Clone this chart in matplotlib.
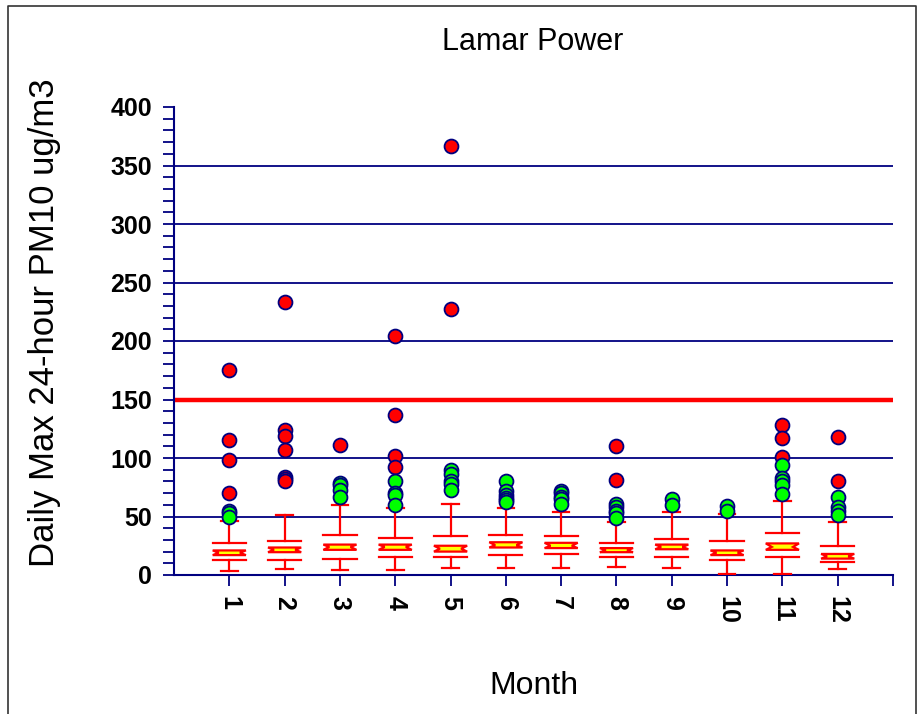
import matplotlib
matplotlib.use('Agg')
import matplotlib.pyplot as plt
import numpy as np
from matplotlib.lines import Line2D
from matplotlib.patches import Polygon
from matplotlib.ticker import MultipleLocator

plt.rcParams['font.family'] = ['Liberation Sans', 'DejaVu Sans']

# box statistics per month
months = [1, 2, 3, 4, 5, 6, 7, 8, 9, 10, 11, 12]
whisker_lo = [3, 5, 4, 4, 6, 6, 6, 7, 6, 1, 1, 5]
q1 = [13, 13, 14, 15, 15, 17, 18, 15, 15, 13, 15, 11]
notch_lo = [17, 19.5, 21.5, 21.5, 20, 23.5, 23, 19.5, 22, 17, 21.5, 14]
median = [19, 21.5, 24, 24, 22.5, 25.5, 25, 21, 24, 19, 24, 16]
notch_hi = [21, 23.5, 26, 26, 25, 28, 27.5, 23, 26, 21, 27, 18]
q3 = [27, 29, 34, 32, 33, 34, 33, 27, 31, 29, 35.5, 25]
whisker_hi = [46, 51, 60, 57, 61, 57, 54, 45, 54, 52, 63, 45]

# extreme points (red) and outliers (green)
red_pts = [[175, 115, 98, 70],
           [233, 124, 119, 107, 84, 82, 80],
           [111],
           [204, 137, 102, 92],
           [367, 227],
           [],
           [],
           [110, 81],
           [],
           [],
           [128, 117, 101],
           [118, 80]]
green_pts = [[55, 53, 50],
             [],
             [79, 77, 73, 67],
             [80, 70, 68, 60],
             [90, 86, 80, 78, 73],
             [80, 72, 68, 66, 64, 62],
             [72, 70, 67, 65, 61],
             [61, 58, 55, 53, 49],
             [65, 60],
             [59, 55],
             [94, 83, 80, 77, 69],
             [67, 58, 55, 51]]

grid_levels = [50, 100, 200, 250, 300, 350]
standard = 150

navy = '#000080'
red = '#ff0000'

W, H = 920, 714
fig = plt.figure(figsize=(W / 100, H / 100), dpi=100)
ax = fig.add_axes([174 / W, 1 - 575 / H, (893 - 174) / W, (575 - 107) / H])

# horizontal grid + 24-hour standard
for g in grid_levels:
    ax.axhline(g, color=navy, lw=1.3, zorder=1)
ax.axhline(standard, color=red, lw=3.2, zorder=2)

box_w = 0.6
cap_w = 0.3
for i, m in enumerate(months):
    lw = 1.6
    # whiskers
    ax.plot([m, m], [whisker_lo[i], q1[i]], color=red, lw=lw, zorder=3)
    ax.plot([m, m], [q3[i], whisker_hi[i]], color=red, lw=lw, zorder=3)
    ax.plot([m - cap_w / 2, m + cap_w / 2], [whisker_lo[i]] * 2, color=red, lw=lw, zorder=3)
    ax.plot([m - cap_w / 2, m + cap_w / 2], [whisker_hi[i]] * 2, color=red, lw=lw, zorder=3)
    # box edges
    ax.plot([m - box_w / 2, m + box_w / 2], [q1[i]] * 2, color=red, lw=lw, zorder=3)
    ax.plot([m - box_w / 2, m + box_w / 2], [q3[i]] * 2, color=red, lw=lw, zorder=3)
    # notch
    nx = box_w * 0.32
    notch = Polygon([(m - box_w / 2, notch_hi[i]), (m - nx, median[i]),
                     (m - box_w / 2, notch_lo[i]), (m + box_w / 2, notch_lo[i]),
                     (m + nx, median[i]), (m + box_w / 2, notch_hi[i])],
                    closed=True, facecolor='#ffff00', edgecolor=red, lw=lw, zorder=4)
    ax.add_patch(notch)

    pts = sorted([(v, red) for v in red_pts[i]] + [(v, '#00ff00') for v in green_pts[i]],
                 key=lambda p: -p[0])
    for v, c in pts:
        ax.plot(m, v, 'o', ms=10, mfc=c, mec=navy, mew=1.3, zorder=5)

ax.set_xlim(0, 13)
ax.set_ylim(0, 400)

for s in ['top', 'right']:
    ax.spines[s].set_visible(False)
for s in ['left', 'bottom']:
    ax.spines[s].set_color(navy)
    ax.spines[s].set_linewidth(1.5)

ax.yaxis.set_major_locator(MultipleLocator(50))
ax.yaxis.set_minor_locator(MultipleLocator(10))
ax.set_xticks(months + [13])
ax.set_xticklabels([str(m) for m in months] + [''], rotation=-90,
                   fontsize=18, fontweight='bold', va='top', ha='center')
for lbl in ax.get_yticklabels():
    lbl.set_fontsize(18)
    lbl.set_fontweight('bold')
ax.tick_params(axis='both', which='both', direction='out', color=navy,
               length=8, width=1.3)
ax.tick_params(axis='y', pad=8)
ax.tick_params(axis='x', pad=7)

fig.text(533 / W, 1 - 42 / H, 'Lamar Power', fontsize=22, ha='center', va='center')
fig.text(45 / W, 1 - 323 / H, 'Daily Max 24-hour PM10 ug/m3', fontsize=25,
         rotation=90, ha='center', va='center')
fig.text(534 / W, 1 - 686 / H, 'Month', fontsize=23, ha='center', va='center')

# outer frame (bottom edge lies outside the image)
fx = [8 / W, 8 / W, 916 / W, 916 / W]
fy = [-0.05, 1 - 6 / H, 1 - 6 / H, -0.05]
fig.add_artist(Line2D(fx, fy, color='#333333', lw=1.2, transform=fig.transFigure))

fig.savefig('out.png', dpi=100)
